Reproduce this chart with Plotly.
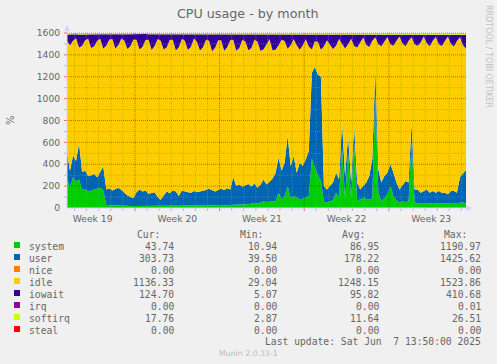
import plotly.graph_objects as go

# ---------------- data ----------------
STEP_DAYS = 0.25          # one sample every 6 hours
N_DAYS = 33               # munin "by month" window
CAPACITY = 1600           # 16 cores x 100 %

# values per day: [00h, 06h, 12h, 18h]
system = [
    265, 190, 280, 240,   260, 170, 170, 150,   160, 170, 180, 185,   160, 30, 25, 25,
    22, 22, 20, 22,       20, 18, 18, 20,       22, 20, 22, 20,       20, 22, 20, 18,
    20, 20, 20, 22,       22, 20, 22, 22,       20, 20, 20, 20,       22, 22, 22, 24,
    22, 22, 24, 25,       24, 25, 25, 30,       30, 32, 30, 35,       35, 40, 45, 40,
    50, 60, 55, 55,       60, 65, 140, 75,      110, 200, 90, 110,    95, 80, 85, 100,
    110, 450, 380, 300,   250, 55, 50, 60,      70, 140, 100, 550,    80, 500, 90, 600,
    64, 80, 94, 80,       79, 85, 1050, 140,    64, 90, 125, 200,     110, 70, 49, 60,
    55, 60, 600, 50,      45, 42, 45, 40,       42, 45, 40, 42,       40, 42, 40, 38,
    42, 40, 45, 50,       44,
]
user = [
    235, 150, 200, 190,   330, 160, 170, 140,   140, 140, 100, 145,   220, 140, 155, 135,
    153, 163, 145, 118,   95, 82, 72, 125,      148, 130, 138, 110,   120, 123, 80, 57,
    95, 130, 115, 138,    128, 90, 138, 128,    125, 120, 135, 125,   128, 138, 143, 151,
    138, 128, 141, 150,   141, 155, 145, 250,   170, 183, 165, 175,   185, 155, 180, 145,
    160, 200, 160, 185,   210, 255, 320, 265,   304, 458, 294, 365,   228, 334, 299, 345,
    410, 787, 910, 920,   950, 146, 120, 140,   162, 183, 162, 230,   212, 158, 142, 150,
    168, 90, 107, 152,    213, 360, 218, 213,   168, 202, 198, 199,   213, 162, 121, 150,
    192, 172, 180, 120,   125, 98, 110, 130,    98, 110, 100, 113,    100, 98, 85, 117,
    113, 100, 235, 260,   304,
]
iowait = [
    62, 100, 60, 35,      120, 105, 55, 40,     125, 110, 60, 40,     130, 105, 50, 45,
    130, 100, 40, 60,     135, 110, 50, 50,     140, 115, 55, 50,     145, 110, 45, 60,
    140, 120, 55, 50,     150, 120, 45, 60,     145, 115, 40, 70,     150, 120, 50, 60,
    155, 125, 55, 55,     150, 120, 55, 50,     150, 125, 50, 65,     145, 125, 50, 65,
    150, 140, 90, 45,     145, 140, 100, 50,    60, 130, 100, 45,     100, 140, 100, 45,
    110, 135, 60, 65,     140, 110, 55, 90,     135, 105, 45, 85,     130, 90, 40, 105,
    120, 75, 30, 95,      115, 60, 25, 90,      110, 65, 25, 90,      105, 60, 20, 85,
    110, 60, 25, 90,      105, 75, 20, 80,      110, 60, 25, 90,      105, 60, 20, 85,
    110, 60, 25, 95,      125,
]
softirq = [
    14, 12, 11, 12,   13, 12, 11, 12,   12, 12, 11, 12,   12, 11, 10, 11,
    11, 10, 10, 11,   11, 10, 10, 11,   11, 11, 10, 11,   11, 10, 10, 11,
    11, 11, 10, 11,   11, 11, 10, 11,   11, 11, 10, 11,   11, 11, 11, 12,
    12, 11, 11, 12,   12, 11, 11, 12,   12, 12, 11, 12,   12, 12, 11, 12,
    12, 12, 12, 12,   12, 13, 12, 12,   13, 13, 12, 12,   12, 13, 12, 12,
    13, 16, 15, 14,   14, 12, 11, 12,   12, 12, 11, 13,   12, 13, 12, 13,
    12, 12, 11, 12,   12, 12, 14, 12,   12, 12, 12, 12,   12, 12, 11, 12,
    12, 12, 13, 12,   12, 12, 12, 12,   12, 12, 12, 13,   13, 13, 12, 13,
    14, 14, 15, 16,   17.76,
]
nice = [0.0] * len(system)
irq = [0.0] * len(system)
steal = [0.0] * len(system)
# idle is what remains of the 16-core capacity
idle = [CAPACITY - s - u - w - q for s, u, w, q in zip(system, user, iowait, softirq)]

times = [i * STEP_DAYS for i in range(len(system))]

series_names = ["system", "user", "nice", "idle", "iowait", "irq", "softirq", "steal"]
series_colors = ["#00CC00", "#0066B3", "#FF8000", "#FFCC00", "#330099", "#990099", "#CCFF00", "#FF0000"]
series_values = [system, user, nice, idle, iowait, irq, softirq, steal]

stat_cur = ["43.74", "303.73", "0.00", "1136.33", "124.70", "0.00", "17.76", "0.00"]
stat_min = ["10.94", "39.50", "0.00", "29.04", "5.07", "0.00", "2.87", "0.00"]
stat_avg = ["86.95", "178.22", "0.00", "1248.15", "95.82", "0.00", "11.64", "0.00"]
stat_max = ["1190.97", "1425.62", "0.00", "1523.86", "410.68", "0.01", "26.51", "0.00"]

week_labels = ["Week 19", "Week 20", "Week 21", "Week 22", "Week 23"]
week_starts = [5.62, 12.62, 19.62, 26.62]          # Monday boundaries (days)
week_centers = [2.12, 9.12, 16.12, 23.12, 30.12]
y_ticks = [0, 200, 400, 600, 800, 1000, 1200, 1400, 1600]

# ---------------- layout helpers ----------------
W, H = 497, 364
L, R, T, B = 67, 466, 32, 208
AXIS = "#CFD6F8"
FONT_C = "#666666"
MONO = "DejaVu Sans Mono"


def px(x):
    return (x - L) / (R - L)


def py(y):
    return (B - y) / (B - T)


fig = go.Figure()
for name, color, vals in zip(series_names, series_colors, series_values):
    fig.add_trace(go.Scatter(
        x=times, y=vals, name=name, mode="lines", stackgroup="cpu",
        line=dict(width=0, color=color), fillcolor=color, hoverinfo="skip",
    ))

shapes = []
# grid (drawn over the areas like rrdtool)
day_lines = [0.62 + k for k in range(N_DAYS)]
for d in day_lines:
    major = any(abs(d - w) < 1e-6 for w in week_starts)
    shapes.append(dict(type="line", xref="x", yref="paper", x0=d, x1=d, y0=0, y1=1, layer="above",
                       line=dict(color="rgba(130,30,30,0.55)" if major else "rgba(140,140,140,0.55)",
                                 width=1, dash="1px,1px")))
    shapes.append(dict(type="line", xref="x", yref="paper", x0=d, x1=d, y0=0, y1=py(B + 3), layer="above",
                       line=dict(color="rgba(255,0,0,0.6)" if major else "#BBBBBB", width=1)))
for v in range(100, 1601, 100):
    major = v % 200 == 0
    shapes.append(dict(type="line", xref="paper", yref="y", x0=0, x1=1, y0=v, y1=v, layer="above",
                       line=dict(color="rgba(130,30,30,0.55)" if major else "rgba(140,140,140,0.55)",
                                 width=1, dash="1px,1px")))
    shapes.append(dict(type="line", xref="paper", yref="y", x0=px(L - 3), x1=0, y0=v, y1=v, layer="above",
                       line=dict(color="rgba(255,0,0,0.6)" if major else "#BBBBBB", width=1)))
# axes and arrows
shapes.append(dict(type="line", xref="paper", yref="paper", x0=0, x1=px(469), y0=0, y1=0, layer="above",
                   line=dict(color=AXIS, width=1)))
shapes.append(dict(type="line", xref="paper", yref="paper", x0=0, x1=0, y0=0, y1=py(29), layer="above",
                   line=dict(color=AXIS, width=1)))
shapes.append(dict(type="path", xref="paper", yref="paper", layer="above",
                   path=f"M {px(466)} {py(205)} L {px(472)} {py(208)} L {px(466)} {py(211)} Z",
                   fillcolor=AXIS, line=dict(color=AXIS, width=0)))
shapes.append(dict(type="path", xref="paper", yref="paper", layer="above",
                   path=f"M {px(64)} {py(31)} L {px(67)} {py(25)} L {px(70)} {py(31)} Z",
                   fillcolor=AXIS, line=dict(color=AXIS, width=0)))

annotations = []


def text(x, y, s, size, color=FONT_C, family="DejaVu Sans", xanchor="center", angle=0):
    annotations.append(dict(x=px(x), y=py(y), xref="paper", yref="paper", text=s.replace(" ", "\u00a0"),
                            showarrow=False, xanchor=xanchor, yanchor="middle", textangle=angle,
                            font=dict(family=family, size=size, color=color)))


text(248, 14, "CPU usage - by month", 12.7)
text(488.5, 56.5, "RRDTOOL / TOBI OETIKER", 8, color="#C0C0C0", angle=90)
text(10, 120, "%", 10, angle=-90)

# legend table
text(162, 234, "Cur:", 9.7, family=MONO, xanchor="right")
text(265, 234, "Min:", 9.7, family=MONO, xanchor="right")
text(367, 234, "Avg:", 9.7, family=MONO, xanchor="right")
text(469, 234, "Max:", 9.7, family=MONO, xanchor="right")
for i, (name, color) in enumerate(zip(series_names, series_colors)):
    yc = 246 + 12 * i
    shapes.append(dict(type="rect", xref="paper", yref="paper", x0=px(14), x1=px(20),
                       y0=py(yc - 4), y1=py(yc + 2), fillcolor=color, line=dict(width=0)))
    text(26.5, yc, name, 9.7, family=MONO, xanchor="left")
    text(176, yc, stat_cur[i], 9.7, family=MONO, xanchor="right")
    text(279, yc, stat_min[i], 9.7, family=MONO, xanchor="right")
    text(381, yc, stat_avg[i], 9.7, family=MONO, xanchor="right")
    text(483, yc, stat_max[i], 9.7, family=MONO, xanchor="right")
text(483, 341, "Last update: Sat Jun  7 13:50:00 2025", 9.7, family=MONO, xanchor="right")
text(248.5, 353, "Munin 2.0.33-1", 7.8, color="#BBBBBB")

fig.update_layout(
    width=W, height=H,
    margin=dict(l=L, r=W - R, t=T, b=H - B, pad=0),
    paper_bgcolor="#F0F0F0", plot_bgcolor="#FFFFFF",
    showlegend=False,
    font=dict(family="DejaVu Sans", color=FONT_C),
    xaxis=dict(range=[0, N_DAYS], tickmode="array", tickvals=week_centers, ticktext=week_labels,
               ticks="outside", ticklen=2, tickcolor="rgba(0,0,0,0)",
               showgrid=False, zeroline=False, showline=False, fixedrange=True,
               tickfont=dict(family="DejaVu Sans", size=9.2, color=FONT_C)),
    yaxis=dict(range=[0, 1609], tickmode="array", tickvals=y_ticks,
               ticks="outside", ticklen=4, tickcolor="rgba(0,0,0,0)",
               showgrid=False, zeroline=False, showline=False, fixedrange=True,
               tickfont=dict(family="DejaVu Sans", size=9.2, color=FONT_C)),
    shapes=shapes,
    annotations=annotations,
)

fig.write_html("out.html",
               config={"displayModeBar": False, "staticPlot": True},
               post_script="document.body.style.margin='0';document.body.style.padding='0';"
                           "document.body.style.background='#F0F0F0';")
